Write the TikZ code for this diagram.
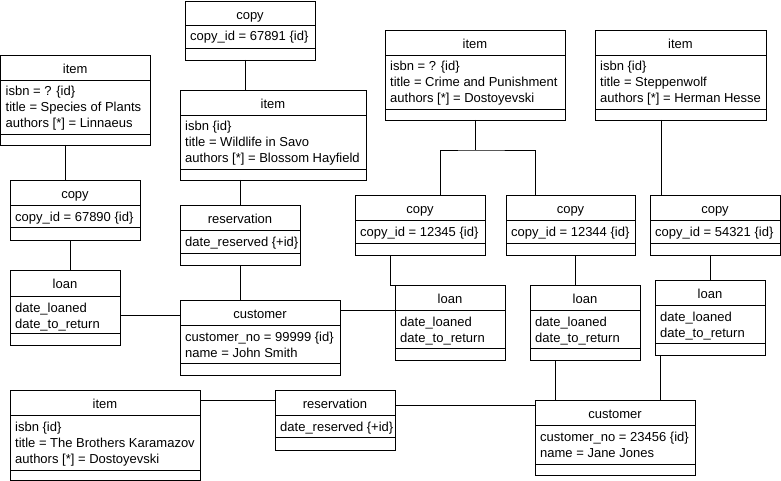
\documentclass[tikz,border=0pt]{standalone}
\usepackage{fontspec}
\setmainfont{Liberation Sans}
\usetikzlibrary{calc}

% name, x, y, width, height, head height, attribute height, title, attributes
\newcommand{\umlobject}[9]{%
  \node[obj,minimum width=#4pt,minimum height=#5pt] (#1) at (#2,#3) {};
  \draw[sep] ([yshift=-#6pt]#1.north west) -- ([yshift=-#6pt]#1.north east);
  \draw[sep] ([yshift=-#6pt-#7pt]#1.north west) -- ([yshift=-#6pt-#7pt]#1.north east);
  \node[objtext,anchor=base] (#1-title) at ([yshift=-18.5pt]#1.north) {#8};
  \foreach \attr [count=\n from 0] in {#9} {
    \node[objtext,anchor=base west] (#1-a\n) at ([xshift=5pt,yshift=-#6pt-16pt-16pt*\n]#1.north west) {\attr};
  }
}

\begin{document}
\begin{tikzpicture}[x=1pt,y=-1pt,
    obj/.style={draw,rectangle,inner sep=0pt,outer sep=0pt,anchor=north west,line width=0.9pt},
    sep/.style={line width=0.9pt},
    objtext/.style={inner sep=0pt,font=\fontsize{13}{16}\selectfont},
    link/.style={draw,line width=0.9pt}]
  \useasboundingbox (0,0) rectangle (781,481);

  % top row
  \umlobject{cpA}{185}{1}{130}{59}{24}{23}{copy}{{copy\_id = 67891 \{id\}}}
  \umlobject{itA}{0.5}{55}{149.5}{90}{25}{54}{item}{{isbn = ? \{id\}},{title = Species of Plants},{authors [*] = Linnaeus}}
  \umlobject{itB}{180}{90}{186}{90}{25}{54}{item}{{isbn \{id\}},{title = Wildlife in Savo},{authors [*] = Blossom Hayfield}}
  \umlobject{itC}{385}{30}{180}{90}{25}{54}{item}{{isbn = ? \{id\}},{title = Crime and Punishment},{authors [*] = Dostoyevski}}
  \umlobject{itD}{595}{30}{171}{90}{25}{54}{item}{{isbn \{id\}},{title = Steppenwolf},{authors [*] = Herman Hesse}}

  % middle
  \umlobject{cpB}{10}{180}{130}{60}{25}{22}{copy}{{copy\_id = 67890 \{id\}}}
  \umlobject{rsA}{180}{205}{120}{60}{25}{23}{reservation}{{date\_reserved \{+id\}}}
  \umlobject{lnA}{10}{270}{110}{75}{26}{37}{loan}{{date\_loaned},{date\_to\_return}}
  \umlobject{csA}{180}{300}{160}{75}{25}{38}{customer}{{customer\_no = 99999 \{id\}},{name = John Smith}}
  \umlobject{cpC}{355}{195}{130}{60}{25}{23}{copy}{{copy\_id = 12345 \{id\}}}
  \umlobject{cpD}{506}{195}{129}{60}{25}{23}{copy}{{copy\_id = 12344 \{id\}}}
  \umlobject{cpE}{650}{195}{130}{60}{25}{23}{copy}{{copy\_id = 54321 \{id\}}}
  \umlobject{lnB}{395}{285}{110}{75}{25}{38}{loan}{{date\_loaned},{date\_to\_return}}
  \umlobject{lnC}{530}{285}{110}{75}{25}{38}{loan}{{date\_loaned},{date\_to\_return}}
  \umlobject{lnD}{655}{280}{110}{75}{25}{38}{loan}{{date\_loaned},{date\_to\_return}}

  % bottom row
  \umlobject{itE}{10}{390}{190}{90}{25}{55}{item}{{isbn \{id\}},{title = The Brothers Karamazov},{authors [*] = Dostoyevski}}
  \umlobject{rsB}{275}{390}{120}{60}{25}{22}{reservation}{{date\_reserved \{+id\}}}
  \umlobject{csB}{535}{400}{160}{75}{25}{39}{customer}{{customer\_no = 23456 \{id\}},{name = Jane Jones}}

  % links
  \coordinate (jC) at ($(itC.south west)+(90,30)$);
  \draw[link] ([xshift=60pt]cpA.south west) -- ([xshift=60pt]cpA.south west |- itB.north);
  \draw[link] ([xshift=65pt]itA.south west) -- ([xshift=65pt]itA.south west |- cpB.north);
  \draw[link] ([xshift=60pt]itB.south west) -- ([xshift=60pt]itB.south west |- rsA.north);
  \draw[link] ([xshift=60pt]cpB.south west) -- ([xshift=60pt]cpB.south west |- lnA.north);
  \draw[link] ([xshift=60pt]rsA.south west) -- ([xshift=60pt]rsA.south west |- csA.north);
  \draw[link] ([yshift=-45pt]lnA.north east) -- ([yshift=-45pt]lnA.north east -| csA.west);
  \draw[link] ([yshift=-10pt]csA.north east) -- ([yshift=-10pt]csA.north east -| lnB.west);
  \draw[link] (jC |- itC.south) -- (jC);
  \draw[link] ([xshift=85pt]cpC.north west) |- (jC) -| ([xshift=29pt]cpD.north west);
  \draw[link] ([xshift=66pt]itD.south west) -- ([xshift=66pt]itD.south west |- cpE.north);
  \draw[link] ([xshift=35pt]cpC.south west) |- (lnB.north west);
  \draw[link] ([xshift=69pt]cpD.south west) -- ([xshift=69pt]cpD.south west |- lnC.north);
  \draw[link] ([xshift=60pt]cpE.south west) -- ([xshift=60pt]cpE.south west |- lnD.north);
  \draw[link] ([xshift=25pt]lnC.south west) -- ([xshift=25pt]lnC.south west |- csB.north);
  \draw[link] ([xshift=5pt]lnD.south west) -- ([xshift=5pt]lnD.south west |- csB.north);
  \draw[link] ([yshift=-10pt]itE.north east) -- ([yshift=-10pt]itE.north east -| rsB.west);
  \draw[link] ([yshift=-15pt]rsB.north east) -- ([yshift=-15pt]rsB.north east -| csB.west);
\end{tikzpicture}
\end{document}
